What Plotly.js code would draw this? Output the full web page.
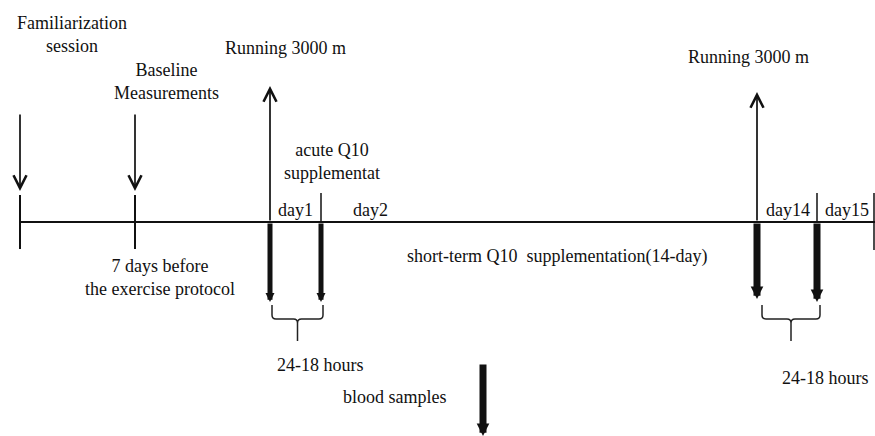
<!DOCTYPE html>
<html><head><meta charset="utf-8">
<script src="https://cdn.plot.ly/plotly-3.0.1.min.js"></script>
<style>html,body{margin:0;padding:0;background:#fff}#chart{width:875px;height:436px}</style>
</head><body><div id="chart"></div>
<script>
// ---- diagram data (timeline positions in diagram units) ----
const timelineStart = 20, timelineEnd = 875, timelineY = 222;
const preEventX = [20, 135];
const preEventLabels = ['Familiarization<br>session', 'Baseline<br>Measurements'];
const preLabelX = [72, 166];
const preLabelY = [34, 81];
const runX = [270, 757];
const runTipY = [86, 92];
const runLabelX = [285, 748];
const runLabelY = [48, 57];
const sampleX = [270, 321, 757, 817];
const sampleEndY = [302, 302, 299, 302];
const sampleWidth = [5, 5, 7, 7];
const dividerX = [321, 817, 874];
const dividerBottom = [222, 222, 250];
const dayLabels = ['day1', 'day2', 'day14', 'day15'];
const dayX = [295, 370, 788, 847];
const braceFrom = [272, 762];
const braceTo = [323, 820];
const hoursX = [320, 825];
const hoursY = [365, 378];
const otherTexts = ['acute Q10<br>supplementat', '7 days before<br>the exercise protocol',
  'short-term Q10  supplementation(14-day)', 'blood samples'];
const otherX = [332, 160, 557, 395];
const otherY = [161, 277, 256, 397];

const FONT = {family: 'Liberation Serif, Times New Roman, serif', size: 18, color: '#111'};
const shapes = [];
const ann = [];
const line = (x0, y0, x1, y1, w) => shapes.push({type: 'line', xref: 'x', yref: 'y', x0, y0, x1, y1, line: {color: '#111', width: w}});
const arrow = (xFrom, yFrom, xTo, yTo, w, head, size) => ann.push({
  x: xTo, y: yTo, ax: xFrom, ay: yFrom, xref: 'x', yref: 'y', axref: 'x', ayref: 'y',
  text: '', showarrow: true, arrowhead: head, arrowsize: size, arrowwidth: w, arrowcolor: '#111', standoff: 0, startstandoff: 0});
const label = (t, x, y) => ann.push({x, y, xref: 'x', yref: 'y', text: t, showarrow: false, font: FONT, align: 'center', xanchor: 'center', yanchor: 'middle'});

// main timeline
line(timelineStart, timelineY, timelineEnd, timelineY, 2);
// pre-protocol events: tick + down arrow
preEventX.forEach((x, i) => {
  line(x, 195, x, 249, 2);
  arrow(x, 113, x, 191, 1.7, 5, 1.5);
  label(preEventLabels[i], preLabelX[i], preLabelY[i]);
});
// running sessions: up arrows
runX.forEach((x, i) => {
  arrow(x, timelineY, x, runTipY[i], 1.7, 5, 1.5);
  label('Running 3000 m', runLabelX[i], runLabelY[i]);
});
// blood sampling thick arrows
sampleX.forEach((x, i) => arrow(x, timelineY, x, sampleEndY[i], sampleWidth[i], 2, 0.36));
// day dividers
dividerX.forEach((x, i) => line(x, 193, x, dividerBottom[i], 1.5));
dayLabels.forEach((t, i) => label(t, dayX[i], 210));
// braces
braceFrom.forEach((a, i) => {
  const b = braceTo[i], m = (a + b) / 2, top = 305, mid = 319, tip = 341, r = 4;
  const p = `M${a},${top} L${a},${mid - r} Q${a},${mid} ${a + r},${mid} L${m - r},${mid} Q${m},${mid} ${m},${mid + r} L${m},${tip} M${m},${mid + r} Q${m},${mid} ${m + r},${mid} L${b - r},${mid} Q${b},${mid} ${b},${mid - r} L${b},${top}`;
  shapes.push({type: 'path', xref: 'x', yref: 'y', path: p, line: {color: '#222', width: 1.5}});
  label('24-18 hours', hoursX[i], hoursY[i]);
});
otherTexts.forEach((t, i) => label(t, otherX[i], otherY[i]));
// blood samples big arrow
arrow(483, 363, 483, 436, 7, 2, 0.36);

Plotly.newPlot('chart', [{x: [0], y: [0], mode: 'markers', marker: {opacity: 0}, hoverinfo: 'skip', showlegend: false}], {
  width: 875, height: 436, margin: {l: 0, r: 0, t: 0, b: 0},
  paper_bgcolor: '#fff', plot_bgcolor: '#fff',
  xaxis: {range: [0, 875], visible: false, fixedrange: true},
  yaxis: {range: [436, 0], visible: false, fixedrange: true},
  shapes, annotations: ann, showlegend: false
}, {staticPlot: true});
</script></body></html>
